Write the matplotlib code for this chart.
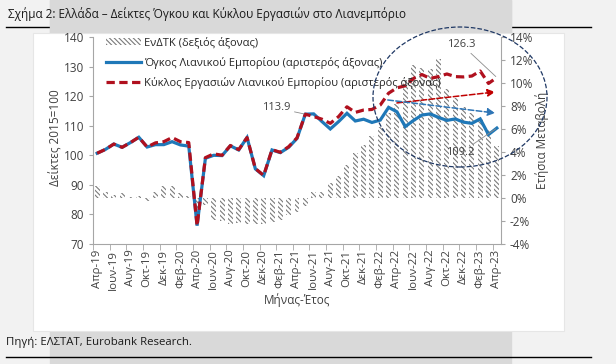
import matplotlib.pyplot as plt
from matplotlib.patches import Rectangle, Ellipse, Patch
from matplotlib.lines import Line2D
import numpy as np

plt.rcParams['font.family'] = ['Open Sans', 'DejaVu Sans']
plt.rcParams['hatch.linewidth'] = 0.8

# monthly data, Apr-19 .. Apr-23
volume = [100.7, 102.0, 103.8, 102.7, 104.3, 106.1, 102.8, 103.6, 103.6, 104.6, 103.5, 103.1,
          76.2, 99.0, 100.0, 99.9, 103.2, 101.8, 106.0, 95.4, 93.1, 101.8, 100.9, 102.7,
          105.7, 113.9, 114.0, 111.4, 108.9, 111.4, 114.2, 111.6, 112.2, 111.1, 111.9, 116.2,
          114.7, 109.7, 111.8, 113.6, 114.0, 112.8, 111.8, 112.3, 111.2, 110.8, 112.3, 107.0,
          109.2]
turnover = [100.7, 102.0, 103.8, 102.7, 104.3, 106.1, 102.8, 104.2, 104.6, 106.0, 104.6, 104.3,
            76.2, 99.2, 100.5, 100.0, 103.3, 101.9, 106.0, 95.5, 93.2, 101.9, 101.0, 102.9,
            105.9, 113.9, 113.1, 112.2, 110.8, 113.1, 116.4, 114.5, 115.3, 115.5, 117.0, 121.0,
            122.8, 123.5, 126.0, 127.3, 126.0, 126.6, 127.5, 126.6, 126.5, 126.8, 128.5, 124.3,
            126.3]
hicp = [1.05, 0.55, 0.25, 0.4, 0.1, 0.2, -0.3, 0.5, 1.0, 1.0, 0.4, 0.2,
        -0.9, -0.6, -1.9, -2.0, -2.3, -2.2, -2.25, -2.3, -2.3, -2.1, -1.9, -1.5,
        -1.2, -0.7, 0.55, 0.55, 1.3, 1.9, 2.9, 3.9, 4.6, 5.4, 6.2, 7.4,
        8.2, 10.3, 11.6, 11.3, 11.2, 12.1, 9.5, 8.7, 7.9, 7.4, 6.9, 5.9,
        4.5]
tick_labels = ['Απρ-19', 'Ιουν-19', 'Αυγ-19', 'Οκτ-19', 'Δεκ-19', 'Φεβ-20', 'Απρ-20',
               'Ιουν-20', 'Αυγ-20', 'Οκτ-20', 'Δεκ-20', 'Φεβ-21', 'Απρ-21', 'Ιουν-21',
               'Αυγ-21', 'Οκτ-21', 'Δεκ-21', 'Φεβ-22', 'Απρ-22', 'Ιουν-22', 'Αυγ-22',
               'Οκτ-22', 'Δεκ-22', 'Φεβ-23', 'Απρ-23']

W, H = 616, 364
def fx(x):
    return x / W
def fy(y):
    return 1 - y / H

HATCH = '\\' * 7
fig = plt.figure(figsize=(6.16, 3.64), dpi=100, facecolor='#f2f2f2')

# page background pieces
fig.add_artist(Rectangle((fx(50), 0), fx(511) - fx(50), 1, transform=fig.transFigure,
                         color='#d9d9d9', zorder=-10))
fig.add_artist(Line2D([fx(6), fx(591)], [fy(27), fy(27)], transform=fig.transFigure,
                      color='black', lw=1, zorder=-9))
fig.add_artist(Rectangle((fx(50), fy(35)), fx(511) - fx(50), fy(0) - fy(35),
                         transform=fig.transFigure, color='#d9d9d9', zorder=-8))
fig.add_artist(Rectangle((fx(33), fy(331)), fx(564) - fx(33), fy(33) - fy(331),
                         transform=fig.transFigure, facecolor='white', edgecolor='#e6e6e6',
                         lw=0.8, zorder=-7))
fig.add_artist(Line2D([fx(6), fx(591)], [fy(357), fy(357)], transform=fig.transFigure,
                      color='black', lw=1))

fig.text(fx(8), fy(14), 'Σχήμα 2: Ελλάδα – Δείκτες Όγκου και Κύκλου Εργασιών στο Λιανεμπόριο',
         fontsize=8.5, color='#1a1a1a', va='center', ha='left')
fig.text(fx(6), fy(342), 'Πηγή: ΕΛΣΤΑΤ, Eurobank Research.', fontsize=8.2, color='#1a1a1a',
         va='center', ha='left')

ax = fig.add_axes([fx(93), fy(244), fx(501) - fx(93), fy(37) - fy(244)])
ax2 = ax.twinx()
ax.set_zorder(ax2.get_zorder() + 1)
ax.patch.set_visible(False)

x = np.arange(len(volume))
ax2.bar(x, hicp, width=0.6, fill=False, hatch=HATCH, edgecolor='#7a7a7a', linewidth=0)
ax.plot(x, volume, color='#1f78b8', lw=2.3, solid_joinstyle='miter')
ax.plot(x, turnover, color='#b0101e', lw=2.3, ls=(0, (2.6, 1.4)))

ax.set_xlim(-0.5, len(volume) - 0.5)
ax.set_ylim(70, 140)
ax.set_yticks(range(70, 141, 10))
ax2.set_ylim(-4, 14)
ax2.set_yticks(range(-4, 15, 2))
ax2.set_yticklabels([f'{v}%' for v in range(-4, 15, 2)])

ax.set_xticks(x[::2])
ax.set_xticklabels(tick_labels, rotation=90)
ax.set_xticks(np.arange(-0.5, len(volume), 2), minor=True)
ax.tick_params(axis='x', which='major', length=0, pad=4, labelsize=8.2, colors='#404040')
ax.tick_params(axis='x', which='minor', length=4, color='#a6a6a6')
ax.tick_params(axis='y', length=3, labelsize=8.5, colors='#404040', color='#a6a6a6')
ax2.tick_params(axis='y', length=3, labelsize=8.5, colors='#404040', color='#a6a6a6')

for a in (ax, ax2):
    a.spines['top'].set_visible(False)
    for s in ('left', 'right', 'bottom'):
        a.spines[s].set_color('#a6a6a6')
        a.spines[s].set_linewidth(0.8)
ax.spines['right'].set_visible(False)
ax2.spines['left'].set_visible(False)
ax2.spines['bottom'].set_visible(False)

fig.text(fx(297), fy(300), 'Μήνας-Έτος', fontsize=8.5, color='#404040', ha='center', va='center')
fig.text(fx(56), fy(138), 'Δείκτες 2015=100', fontsize=8.5, color='#404040', rotation=90,
         ha='center', va='center')
fig.text(fx(542), fy(140), 'Ετήσια Μεταβολή', fontsize=8.5, color='#404040', rotation=90,
         ha='center', va='center')

# annotations
ann = dict(arrowstyle='-', color='#8c8c8c', lw=0.6, shrinkA=1, shrinkB=1)
ax.annotate('113.9', xy=(25, volume[25]), xytext=(23.2, 116.0), ha='right', va='center',
            fontsize=8, color='#404040', arrowprops=ann)
ax.annotate('126.3', xy=(48, turnover[-1]), xytext=(43.7, 137.6), ha='center', va='center',
            fontsize=8, color='#404040', arrowprops=ann)
ax.annotate('109.2', xy=(48, volume[-1]), xytext=(43.6, 100.8), ha='center', va='center',
            fontsize=8, color='#404040', arrowprops=ann)

# trend arrows
ax.annotate('', xy=(47.8, 121.4), xytext=(36, 117.7),
            arrowprops=dict(arrowstyle='-|>', color='#c00000', lw=1.1, ls='--',
                            mutation_scale=11, shrinkA=0, shrinkB=0))
ax.annotate('', xy=(47.8, 114.3), xytext=(34.9, 118.7),
            arrowprops=dict(arrowstyle='-|>', color='#2e75b6', lw=1.1, ls='--',
                            mutation_scale=11, shrinkA=0, shrinkB=0))

fig.add_artist(Ellipse((fx(460), fy(97)), fx(174), 140 / H, transform=fig.transFigure,
                       fill=False, ls='--', ec='#1f3864', lw=0.9, zorder=5))

handles = [Patch(fill=False, hatch=HATCH, edgecolor='#7a7a7a', linewidth=0),
           Line2D([], [], color='#1f78b8', lw=2.3),
           Line2D([], [], color='#b0101e', lw=2.3, ls=(0, (2.6, 1.4)))]
labels = ['ΕνΔΤΚ (δεξιός άξονας)',
          'Όγκος Λιανικού Εμπορίου (αριστερός άξονας)',
          'Κύκλος Εργασιών Λιανικού Εμπορίου (αριστερός άξονας)']
ax.legend(handles, labels, loc='upper left', bbox_to_anchor=(fx(100), fy(31)),
          bbox_transform=fig.transFigure, frameon=False, fontsize=8, handlelength=3.2,
          handletextpad=0.3, labelspacing=0.75, borderpad=0, labelcolor='#262626')

fig.savefig('out.png', dpi=100, facecolor=fig.get_facecolor())
